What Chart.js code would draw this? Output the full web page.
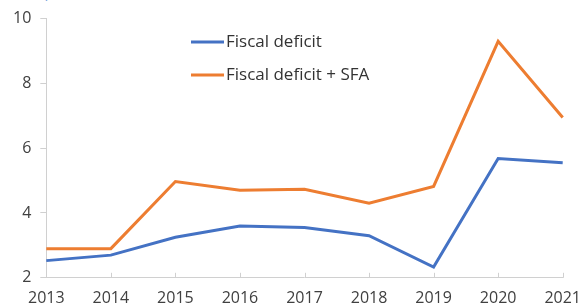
<!DOCTYPE html>
<html>
<head>
<meta charset="utf-8">
<script src="https://cdn.jsdelivr.net/npm/chart.js@4.4.0/dist/chart.umd.min.js"></script>
<style>
  html, body { margin: 0; padding: 0; background: #fff; overflow: hidden; }
  #wrap { position: absolute; left: 0; top: 0; width: 592px; height: 319px; }
  #sub { position: absolute; left: 40px; top: -19px; font: 15px "Open Sans", sans-serif; color: #7aa3dc; }
</style>
</head>
<body>
<div id="sub">(percent of GDP)</div>
<div id="wrap"><canvas id="myChart"></canvas></div>
<script>
const years = ['2013', '2014', '2015', '2016', '2017', '2018', '2019', '2020', '2021'];
const fiscalDeficit = [2.53, 2.7, 3.25, 3.6, 3.55, 3.3, 2.33, 5.68, 5.55];
const fiscalDeficitSfa = [2.9, 2.9, 4.97, 4.7, 4.73, 4.3, 4.82, 9.3, 6.95];
const yTicks = [2, 4, 6, 8, 10];

const seriesNames = ['Fiscal deficit', 'Fiscal deficit + SFA'];
const seriesColors = ['#4472c4', '#ed7d31'];

// legend drawn inside the plot, plus small x tick marks pointing up
const insideBits = {
  id: 'insideBits',
  afterDraw(chart) {
    const ctx = chart.ctx;
    const x = chart.scales.x;
    const area = chart.chartArea;
    ctx.save();
    ctx.strokeStyle = '#d0d0d0';
    ctx.lineWidth = 1;
    years.forEach((y, i) => {
      const px = Math.round(x.getPixelForTick(i)) + 0.5;
      ctx.beginPath();
      ctx.moveTo(px, area.bottom);
      ctx.lineTo(px, area.bottom - 5);
      ctx.stroke();
    });
    ctx.font = '17px "Open Sans", sans-serif';
    ctx.textBaseline = 'middle';
    seriesNames.forEach((name, i) => {
      const ly = 42 + i * 33;
      ctx.strokeStyle = seriesColors[i];
      ctx.lineWidth = 3;
      ctx.beginPath();
      ctx.moveTo(191, ly);
      ctx.lineTo(224, ly);
      ctx.stroke();
      ctx.fillStyle = '#333';
      ctx.fillText(name, 226, ly);
    });
    ctx.restore();
  }
};

const data = {
  labels: years,
  datasets: [{
    label: seriesNames[0],
    data: fiscalDeficit,
    borderColor: seriesColors[0],
    backgroundColor: seriesColors[0],
    borderWidth: 3,
    pointRadius: 0,
    tension: 0
  },
  {
    label: seriesNames[1],
    data: fiscalDeficitSfa,
    borderColor: seriesColors[1],
    backgroundColor: seriesColors[1],
    borderWidth: 3,
    pointRadius: 0,
    tension: 0
  }]
};

const config = {
  type: 'line',
  data,
  options: {
    responsive: true,
    maintainAspectRatio: false,
    animation: false,
    layout: { padding: { top: 15, left: 4, right: 0, bottom: 0 } },
    plugins: {
      legend: { display: false },
      tooltip: { enabled: false }
    },
    scales: {
      x: {
        offset: false,
        grid: { display: false, drawTicks: false },
        border: { display: true, color: '#d0d0d0' },
        ticks: {
          color: '#404040',
          font: { size: 16, family: '"Open Sans", sans-serif' },
          padding: 11,
          maxRotation: 0,
          autoSkip: false
        }
      },
      y: {
        min: 2,
        max: 10,
        afterBuildTicks: axis => { axis.ticks = yTicks.map(v => ({ value: v })); },
        grid: { drawOnChartArea: false, tickLength: 6, color: '#d0d0d0' },
        border: { display: true, color: '#d0d0d0' },
        ticks: {
          color: '#404040',
          font: { size: 16, family: '"Open Sans", sans-serif' },
          padding: 9
        }
      }
    }
  },
  plugins: [insideBits]
};

const myChart = new Chart(
  document.getElementById('myChart'),
  config
);
</script>
</body>
</html>
